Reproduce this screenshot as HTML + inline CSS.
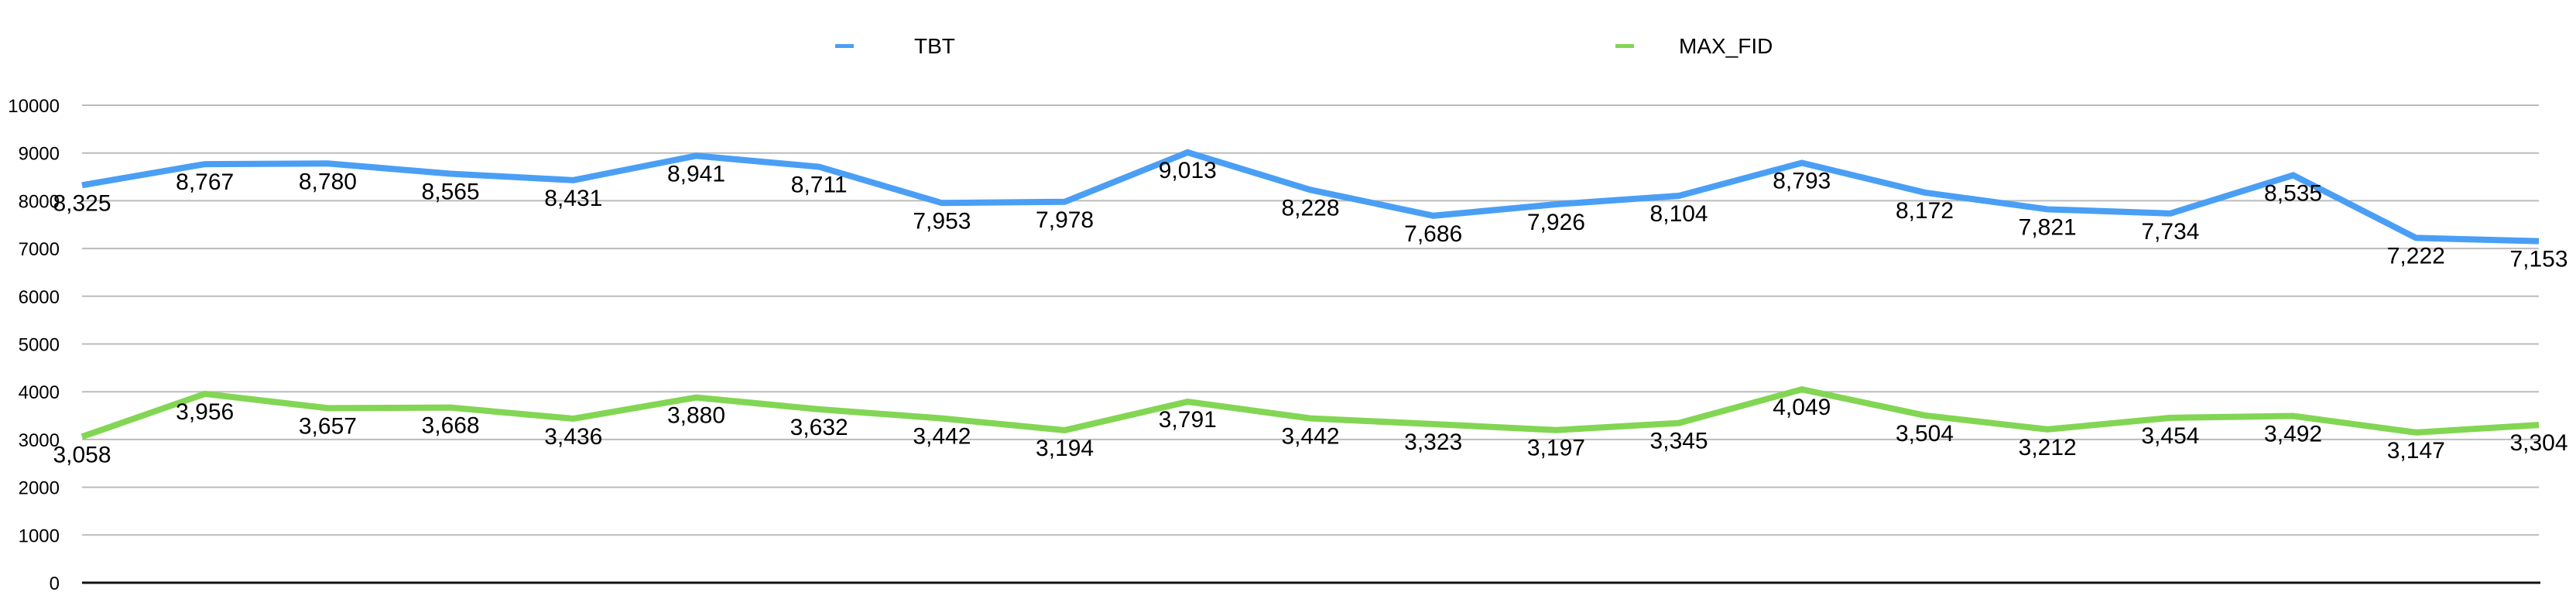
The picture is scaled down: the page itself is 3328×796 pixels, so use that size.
<!DOCTYPE html>
<html><head><meta charset="utf-8">
<style>
html,body{margin:0;padding:0;background:#fff;}
svg{display:block;font-family:"Liberation Sans",Arial,sans-serif;}
</style></head>
<body>
<svg id="chart" width="3328" height="796" viewBox="0 0 3328 796" xmlns="http://www.w3.org/2000/svg">
  <g>
    <g>
      <rect x="1079" y="57" width="24" height="5" fill="#4a9ff5"/>
      <text x="1181" y="69" font-size="28" fill="#000">TBT</text>
    </g>
    <g>
      <rect x="2087" y="57" width="24" height="5" fill="#82d653"/>
      <text x="2169" y="69" font-size="28" fill="#000">MAX_FID</text>
    </g>
  </g>
  <g id="grid"></g>
  <g id="yaxis"></g>
  <g id="series"></g>
  <g id="labels"></g>
</svg>
<script>
const categories = Array.from({length:21},(_,i)=>'P'+(i+1));
const tbtValues = [8325,8767,8780,8565,8431,8941,8711,7953,7978,9013,8228,7686,7926,8104,8793,8172,7821,7734,8535,7222,7153];
const maxFidValues = [3058,3956,3657,3668,3436,3880,3632,3442,3194,3791,3442,3323,3197,3345,4049,3504,3212,3454,3492,3147,3304];
const yTicks = [0,1000,2000,3000,4000,5000,6000,7000,8000,9000,10000];

const NS='http://www.w3.org/2000/svg';
const plotL=106, plotR=3280, y0=753, y10k=136, yMax=10000;
function xPos(i){return plotL+(plotR-plotL)*i/(categories.length-1);}
function yPos(v){return y0-(y0-y10k)*v/yMax;}
function mk(tag,attrs,parent){const e=document.createElementNS(NS,tag);for(const k in attrs)e.setAttribute(k,attrs[k]);parent.appendChild(e);return e;}
const grid=document.getElementById('grid'), yaxis=document.getElementById('yaxis'), series=document.getElementById('series'), labels=document.getElementById('labels');

yTicks.forEach(t=>{
  const y=yPos(t);
  if(t!==0){
    const l=mk('line',{x1:plotL,x2:plotR,y1:y,y2:y,stroke:'#bbbbbb','stroke-width':2},grid);
    
    
  }
  const tx=mk('text',{x:77,y:y+9,'text-anchor':'end','font-size':24,fill:'#000'},yaxis);
  tx.textContent=String(t);
  
  
});
const base=mk('line',{x1:plotL,x2:plotR+2,y1:y0,y2:y0,stroke:'#111','stroke-width':3},grid);



function drawSeries(vals,color,name){
  const pts=vals.map((v,i)=>xPos(i)+','+yPos(v)).join(' ');
  const pl=mk('polyline',{points:pts,fill:'none',stroke:color,'stroke-width':8,'stroke-linejoin':'miter'},series);
  
  
  vals.forEach((v,i)=>{
    const t=mk('text',{x:xPos(i),y:yPos(v)+33,'text-anchor':'middle','font-size':30,fill:'#000'},labels);
    t.textContent=v.toLocaleString('en-US');
    
    
  });
}
drawSeries(tbtValues,'#4a9ff5','tbt');
drawSeries(maxFidValues,'#82d653','max-fid');
</script>
</body></html>
